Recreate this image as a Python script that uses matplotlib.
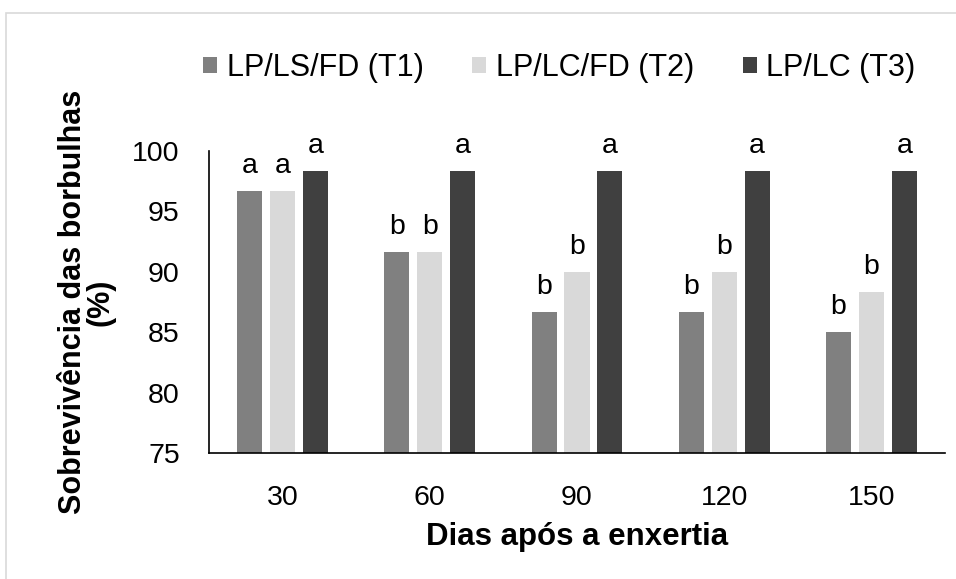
import matplotlib
matplotlib.use("Agg")
import matplotlib.pyplot as plt
import numpy as np
from matplotlib.patches import Rectangle

plt.rcParams["font.family"] = ["Liberation Sans", "DejaVu Sans"]

dias = ["30", "60", "90", "120", "150"]
series = ["LP/LS/FD (T1)", "LP/LC/FD (T2)", "LP/LC (T3)"]
t1 = [96.67, 91.67, 86.67, 86.67, 85.0]
t2 = [96.67, 91.67, 90.0, 90.0, 88.33]
t3 = [98.33, 98.33, 98.33, 98.33, 98.33]
letras_t1 = ["a", "b", "b", "b", "b"]
letras_t2 = ["a", "b", "b", "b", "b"]
letras_t3 = ["a", "a", "a", "a", "a"]

cores = ["#808080", "#d9d9d9", "#404040"]

fig = plt.figure(figsize=(9.56, 5.79), dpi=100)
ax = fig.add_axes([0.2186, 0.2176, 0.7699, 0.5216])

x = np.arange(len(dias))
largura = 0.17
passo = 0.224
for k, (vals, letras) in enumerate(zip([t1, t2, t3], [letras_t1, letras_t2, letras_t3])):
    pos = x + (k - 1) * passo
    ax.bar(pos, vals, width=largura, bottom=0, color=cores[k], label=series[k])
    for xp, v, l in zip(pos, vals, letras):
        ax.annotate(l, (xp, v), xytext=(0, 13), textcoords="offset points",
                    ha="center", va="baseline", fontsize=20.5)

ax.set_ylim(75, 100)
ax.set_xlim(-0.5, len(dias) - 0.5)
ax.set_yticks([75, 80, 85, 90, 95, 100])
ax.set_xticks(x)
ax.set_xticklabels(dias)
ax.tick_params(axis="both", length=0, labelsize=20.5)
ax.tick_params(axis="x", pad=23)
ax.tick_params(axis="y", pad=21)
for s in ["top", "right"]:
    ax.spines[s].set_visible(False)
for s in ["left", "bottom"]:
    ax.spines[s].set_linewidth(1.2)

ax.set_xlabel("Dias após a enxertia", fontsize=22.5, fontweight="bold", labelpad=8)
ax.set_ylabel("Sobrevivência das borbulhas\n(%)", fontsize=22, fontweight="bold",
              labelpad=12, linespacing=0.88)

fig.legend(loc="center", bbox_to_anchor=(0.585, 1 - 68 / 579), ncol=3,
           frameon=False, fontsize=22, handlelength=0.46, handleheight=0.46,
           handletextpad=0.3, columnspacing=1.6)

# moldura clara em volta do gráfico
fig.patches.append(Rectangle((6 / 956, -0.1), 1.2, 1 - 13 / 579 + 0.1,
                             transform=fig.transFigure, fill=False,
                             edgecolor="#d9d9d9", linewidth=1.2))

fig.savefig("out.png", dpi=100)
